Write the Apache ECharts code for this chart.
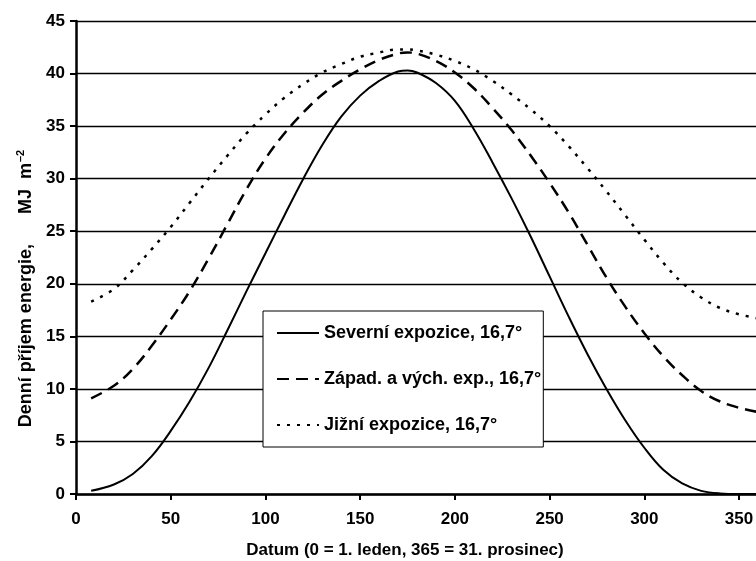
<!DOCTYPE html>
<html>
<head>
<meta charset="utf-8">
<script src="https://cdn.jsdelivr.net/npm/echarts@6/dist/echarts.min.js"></script>
<style>
  html, body { margin: 0; padding: 0; background: #fff; }
  #chart { width: 756px; height: 561px; }
</style>
</head>
<body>
<div id="chart"></div>
<script>
// den v roce (0 = 1. leden)
var dny = [8, 20, 30, 40, 50, 60, 70, 80, 90, 100, 110, 120, 130, 140, 150, 160, 170, 175, 180,
  190, 200, 210, 220, 230, 240, 250, 260, 270, 280, 290, 300, 310, 320, 330, 340, 350, 360];

// Severní expozice
var severni = [0.3, 0.9, 1.9, 3.6, 6.0, 8.8, 12.0, 15.6, 19.3, 22.9, 26.5, 30.0, 33.2, 35.9, 37.9, 39.3, 40.2, 40.3, 40.1,
  39.1, 37.4, 34.7, 31.5, 28.1, 24.5, 20.7, 16.9, 13.3, 10.0, 7.0, 4.4, 2.3, 1.0, 0.3, 0.05, 0.0, 0.0];

// Západ. a vých. expozice
var zapad = [9.1, 10.3, 11.9, 14.1, 16.6, 19.3, 22.4, 25.7, 29.0, 31.9, 34.3, 36.3, 38.0, 39.3, 40.4, 41.3, 41.9, 42.0, 41.9,
  41.2, 40.1, 38.6, 36.7, 34.6, 32.2, 29.6, 26.8, 23.7, 20.6, 17.8, 15.3, 13.1, 11.3, 9.8, 8.8, 8.2, 7.8];

// Jižní expozice
var jizni = [18.3, 19.5, 21.3, 23.3, 25.4, 27.7, 30.0, 32.2, 34.3, 36.1, 37.7, 39.0, 40.1, 40.9, 41.6, 42.0, 42.3, 42.3, 42.2,
  41.8, 41.2, 40.4, 39.3, 38.0, 36.6, 35.0, 33.1, 31.0, 28.8, 26.5, 24.2, 22.0, 20.1, 18.7, 17.7, 17.1, 16.7];

var nazvy = ['Severní expozice, 16,7°', 'Západ. a vých. exp., 16,7°', 'Jižní expozice, 16,7°'];

function pary(hodnoty) {
  return dny.map(function (d, i) { return [d, hodnoty[i]]; });
}

var font = 'Liberation Sans, Arial, sans-serif';
var chart = echarts.init(document.getElementById('chart'));

var option = {
  backgroundColor: '#fff',
  animation: false,
  grid: { left: 76, top: 21, width: 682, height: 473, outerBoundsMode: 'none' },
  legend: {
    left: 263, top: 311,
    orient: 'vertical',
    backgroundColor: '#fff',
    borderColor: '#000',
    borderWidth: 1,
    padding: [13, 2, 13, 13],
    itemWidth: 42,
    itemHeight: 14,
    itemGap: 28,
    z: 10,
    itemStyle: { opacity: 0 },
    textStyle: { fontFamily: font, fontWeight: 'bold', fontSize: 18, color: '#000' },
    data: nazvy
  },
  xAxis: {
    type: 'value',
    min: 0, max: 360, interval: 50,
    name: 'Datum (0 = 1. leden, 365 = 31. prosinec)',
    nameLocation: 'middle',
    nameGap: 48,
    nameTextStyle: { fontFamily: font, fontWeight: 'bold', fontSize: 17, color: '#000', padding: [0, 24, 0, 0] },
    axisLine: { lineStyle: { color: '#000', width: 2.5 } },
    axisTick: { show: true, length: 6, lineStyle: { color: '#000', width: 2 } },
    axisLabel: { fontFamily: font, fontWeight: 'bold', fontSize: 17, color: '#000', margin: 17, showMaxLabel: false },
    splitLine: { show: false }
  },
  yAxis: {
    type: 'value',
    min: 0, max: 45, interval: 5,
    name: 'Denní příjem energie,      MJ  m{sup|–2}',
    nameLocation: 'middle',
    nameGap: 36,
    nameTextStyle: {
      fontFamily: font, fontWeight: 'bold', fontSize: 18, color: '#000',
      padding: [0, 62, 0, 0],
      rich: { sup: { fontFamily: font, fontWeight: 'bold', fontSize: 11, color: '#000', padding: [0, 0, 10, 1] } }
    },
    axisLine: { show: true, lineStyle: { color: '#000', width: 2.5 } },
    axisTick: { show: true, length: 6, lineStyle: { color: '#000', width: 2 } },
    axisLabel: { fontFamily: font, fontWeight: 'bold', fontSize: 17, color: '#000', margin: 11 },
    splitLine: { show: true, lineStyle: { color: '#000', width: 1.4 } }
  },
  series: [
    {
      name: nazvy[0], type: 'line', smooth: 0.4, symbol: 'none',
      lineStyle: { color: '#000', width: 2, type: 'solid' },
      itemStyle: { color: '#000' },
      data: pary(severni)
    },
    {
      name: nazvy[1], type: 'line', smooth: 0.4, symbol: 'none',
      lineStyle: { color: '#000', width: 2.5, type: [12, 7] },
      itemStyle: { color: '#000' },
      data: pary(zapad)
    },
    {
      name: nazvy[2], type: 'line', smooth: 0.4, symbol: 'none',
      lineStyle: { color: '#000', width: 2.5, type: [3, 7] },
      itemStyle: { color: '#000' },
      data: pary(jizni)
    }
  ]
};

chart.setOption(option);
</script>
</body>
</html>
